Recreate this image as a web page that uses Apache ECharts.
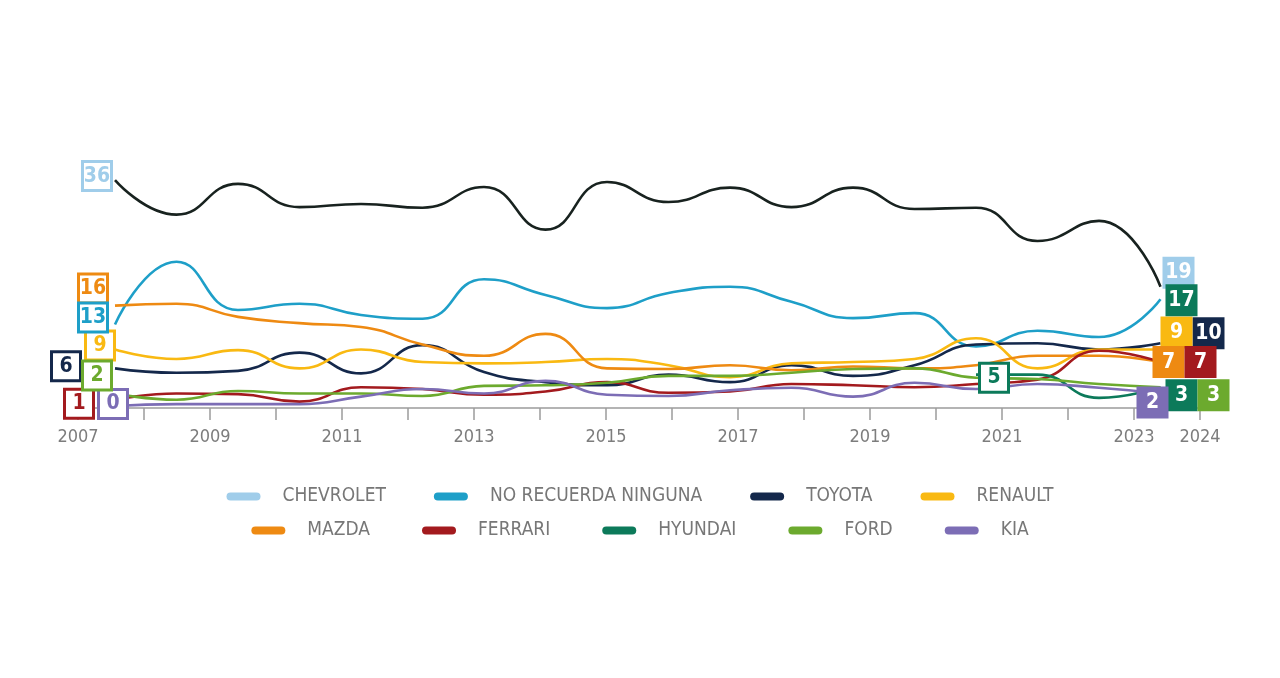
<!DOCTYPE html>
<html>
<head>
<meta charset="utf-8">
<script src="https://cdn.jsdelivr.net/npm/echarts@6/dist/echarts.min.js"></script>
<style>html,body{margin:0;padding:0;background:#fff}#c{width:1280px;height:678px}</style>
</head>
<body>
<div id="c"></div>
<script>
// ---------- DATA ----------
const years = ['2007','2008','2009','2010','2011','2012','2013','2014','2015','2016','2017','2018','2019','2020','2021','2022','2023','2024'];
const axisLabelYears = ['2007','2009','2011','2013','2015','2017','2019','2021','2023','2024'];
const seriesNames = ['CHEVROLET','NO RECUERDA NINGUNA','TOYOTA','RENAULT','MAZDA','FERRARI','HYUNDAI','FORD','KIA'];
const chevrolet   = [36, 30.5, 35.4, 31.7, 32.2, 31.6, 34.9, 28.1, 35.7, 32.5, 34.8, 31.7, 34.8, 31.4, 31.6, 26.3, 29.5, 19];
const noRecuerda  = [13, 23, 15.3, 16.3, 14.5, 13.9, 20.2, 17.7, 15.6, 18, 19, 16.6, 14, 14.8, 9.5, 12, 11, 17];
const toyota      = [6, 5.3, 5.6, 8.5, 5.2, 9.7, 5.4, 3.8, 3.3, 5, 3.8, 6.5, 4.8, 6.5, 9.8, 10, 9, 10];
const renault     = [9, 7.5, 8.9, 6, 9, 7, 6.8, 7, 7.5, 6.5, 4.6, 6.8, 7, 7.5, 10.8, 6, 9, 9];
const mazda       = [16, 16.3, 14.2, 13.2, 12.6, 9.8, 8, 11.5, 6, 5.9, 6.5, 5.7, 6.3, 6, 6.5, 8, 8, 7];
const ferrari     = [1, 2, 1.9, 0.7, 3, 2.7, 1.8, 2.3, 3.8, 2.1, 2.3, 3.5, 3.3, 3, 3.5, 4.2, 8.8, 7];
const hyundai     = [null, null, null, null, null, null, null, null, null, null, null, null, null, null, 5, 5, 1.3, 3];
const ford        = [2, 1, 2.4, 2, 2, 1.6, 3.2, 3.3, 3.7, 4.8, 4.8, 5.3, 5.9, 6, 4.5, 4.3, 3.5, 3];
const kia         = [0, 0.3, 0.3, 0.3, 1.5, 2.7, 2, 4, 1.8, 1.6, 2.5, 2.9, 1.5, 3.7, 2.7, 3.5, 2.9, 2];
const seriesValues = [chevrolet, noRecuerda, toyota, renault, mazda, ferrari, hyundai, ford, kia];

// ---------- STYLE ----------
const legendColors = ['#a0cdea','#1e9fc8','#14284b','#f9b912','#ee8a12','#a31a1e','#0c7a5a','#6caa2e','#7c6db5'];
const lineColors   = ['#18221f','#1e9fc8','#14284b','#f9b912','#ee8a12','#a31a1e','#0c7a5a','#6caa2e','#7c6db5'];
const endBoxColors = ['#a0cdea','#0c7a5a','#14284b','#f9b912','#ee8a12','#a31a1e','#0c7a5a','#6caa2e','#7c6db5'];
// start box offsets (px) relative to first point, end box offsets relative to last point
const startOffsets = [[-18,-4],[-22,-7],[-49,-2],[-15,-4],[-22,-17],[-36,4],[18,3],[-18,-18],[-2,-2]];
const endOffsets   = [[18,-14],[21,1],[48,-10],[16,-17],[8,0],[40,0],[21,8],[53,8],[-8,9]];
const markZ        = [5,7,5,5,5,5,5,6,5];
const FONT = '"Liberation Sans Narrow","DejaVu Sans Condensed","Roboto Condensed",sans-serif';
const GRID_TOP = 155, GRID_BOTTOM = 272;

function firstIndex(arr){ for (let i=0;i<arr.length;i++) if (arr[i]!=null) return i; return 0; }

const series = seriesNames.map((name, k) => {
  const vals = seriesValues[k];
  const fi = firstIndex(vals);
  const li = vals.length - 1;
  return {
    name, type: 'line', xAxisIndex: 1, yAxisIndex: 1,
    data: vals, smooth: 0.5, showSymbol: false, symbol: 'none',
    connectNulls: false,
    lineStyle: { color: lineColors[k], width: 2.6 },
    itemStyle: { color: legendColors[k] },
    emphasis: { disabled: true },
    z: 2,
    markPoint: {
      z: markZ[k],
      silent: true,
      animation: false,
      data: [
        {
          coord: [years[fi], vals[fi]], value: vals[fi],
          symbol: 'rect', symbolSize: [29, 29], symbolOffset: startOffsets[k],
          itemStyle: { color: '#fff', borderColor: legendColors[k], borderWidth: 3 },
          label: { show: true, position: 'inside', formatter: String(vals[fi]), color: legendColors[k], fontFamily: FONT, fontWeight: 'bold', fontSize: 21 }
        },
        {
          coord: [years[li], vals[li]], value: vals[li],
          symbol: 'rect', symbolSize: [32, 32], symbolOffset: endOffsets[k],
          itemStyle: { color: endBoxColors[k], borderWidth: 0 },
          label: { show: true, position: 'inside', formatter: String(vals[li]), color: '#fff', fontFamily: FONT, fontWeight: 'bold', fontSize: 21 }
        }
      ]
    }
  };
});

function legendData(names){
  return names.map(n => ({ name: n, itemStyle: { color: legendColors[seriesNames.indexOf(n)] } }));
}
const capsule = 'path://M4,0 H30 A4,4 0 0 1 30,8 H4 A4,4 0 0 1 4,0 Z';
const legendCommon = {
  left: 'center', orient: 'horizontal', itemWidth: 34, itemHeight: 8,
  icon: capsule, selectedMode: false,
  textStyle: { color: '#777', fontFamily: FONT, fontSize: 19, padding: [0,0,0,17] }
};

const option = {
  animation: false,
  backgroundColor: '#fff',
  grid: [
    { left: 78, right: 80, top: GRID_TOP, bottom: 270 },
    { left: 115, right: 119.5, top: GRID_TOP, bottom: GRID_BOTTOM }
  ],
  xAxis: [
    {
      type: 'value', gridIndex: 0, min: 2007, max: 2024, interval: 1,
      axisLine: { show: true, lineStyle: { color: '#9c9c9c', width: 1.5 } },
      axisTick: { show: true, length: 12, lineStyle: { color: '#9c9c9c', width: 1.5 } },
      splitLine: { show: false },
      axisLabel: {
        color: '#7d7d7d', fontFamily: FONT, fontSize: 18, margin: 20,
        formatter: v => axisLabelYears.includes(String(v)) ? String(v) : ''
      }
    },
    { type: 'category', gridIndex: 1, data: years, boundaryGap: false, show: false }
  ],
  yAxis: [
    { type: 'value', gridIndex: 0, min: 0, max: 40, show: false },
    { type: 'value', gridIndex: 1, min: 0, max: 40, show: false }
  ],
  legend: [
    Object.assign({}, legendCommon, { top: 482, itemGap: 48, data: legendData(seriesNames.slice(0,4)) }),
    Object.assign({}, legendCommon, { top: 516, itemGap: 52, data: legendData(seriesNames.slice(4)) })
  ],
  series
};

const chart = echarts.init(document.getElementById('c'), null, { renderer: 'canvas' });
chart.setOption(option);
</script>
</body>
</html>
